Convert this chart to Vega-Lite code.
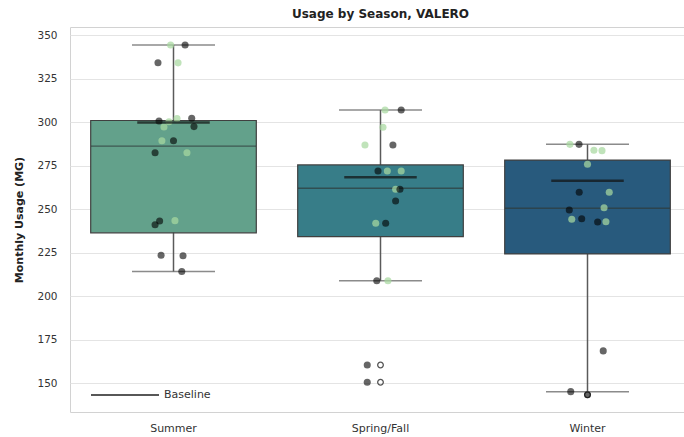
{
  "$schema": "https://vega.github.io/schema/vega-lite/v6.json",
  "autosize": "none",
  "width": 621,
  "height": 385,
  "padding": {"left": 70, "top": 27, "right": 0, "bottom": 25},
  "background": "white",
  "config": {
    "font": "DejaVu Sans",
    "view": {"stroke": "#d2d2d2", "strokeWidth": 1},
    "axis": {"labelColor": "#333", "titleColor": "#222", "domain": false, "ticks": false}
  },
  "title": {"text": "Usage by Season, VALERO", "fontSize": 12, "fontWeight": "bold", "color": "#222", "offset": 6},
  "datasets": {
    "boxes": [
      {"season": "Summer", "lower": 214.2, "q1": 236.4, "median": 286.2, "q3": 300.9, "upper": 344.3, "baseline": 299.8},
      {"season": "Spring/Fall", "lower": 208.9, "q1": 234.2, "median": 262.0, "q3": 275.4, "upper": 306.9, "baseline": 268.3},
      {"season": "Winter", "lower": 145.2, "q1": 224.3, "median": 250.5, "q3": 278.2, "upper": 287.2, "baseline": 266.3}
    ],
    "fliers": [
      {"season": "Spring/Fall", "usage": 160.5},
      {"season": "Spring/Fall", "usage": 150.6},
      {"season": "Winter", "usage": 143.4}
    ],
    "points": [
      {"season": "Summer", "usage": 344.3, "group": "light", "jitter": -0.014},
      {"season": "Summer", "usage": 344.3, "group": "dark", "jitter": 0.056},
      {"season": "Summer", "usage": 334.1, "group": "dark", "jitter": -0.075},
      {"season": "Summer", "usage": 334.0, "group": "light", "jitter": 0.022},
      {"season": "Summer", "usage": 300.6, "group": "dark", "jitter": -0.07},
      {"season": "Summer", "usage": 300.2, "group": "light", "jitter": -0.022},
      {"season": "Summer", "usage": 302.0, "group": "light", "jitter": 0.017},
      {"season": "Summer", "usage": 302.2, "group": "dark", "jitter": 0.088},
      {"season": "Summer", "usage": 297.4, "group": "dark", "jitter": 0.099},
      {"season": "Summer", "usage": 297.2, "group": "light", "jitter": -0.046},
      {"season": "Summer", "usage": 289.3, "group": "light", "jitter": -0.056},
      {"season": "Summer", "usage": 289.3, "group": "dark", "jitter": 0.0},
      {"season": "Summer", "usage": 282.4, "group": "dark", "jitter": -0.089},
      {"season": "Summer", "usage": 282.4, "group": "light", "jitter": 0.065},
      {"season": "Summer", "usage": 241.0, "group": "dark", "jitter": -0.089},
      {"season": "Summer", "usage": 243.2, "group": "dark", "jitter": -0.067},
      {"season": "Summer", "usage": 243.4, "group": "light", "jitter": 0.007},
      {"season": "Summer", "usage": 223.5, "group": "dark", "jitter": -0.06},
      {"season": "Summer", "usage": 223.2, "group": "dark", "jitter": 0.046},
      {"season": "Summer", "usage": 214.2, "group": "dark", "jitter": 0.04},
      {"season": "Spring/Fall", "usage": 306.9, "group": "light", "jitter": 0.022},
      {"season": "Spring/Fall", "usage": 306.9, "group": "dark", "jitter": 0.1},
      {"season": "Spring/Fall", "usage": 297.0, "group": "light", "jitter": 0.012},
      {"season": "Spring/Fall", "usage": 286.8, "group": "light", "jitter": -0.075},
      {"season": "Spring/Fall", "usage": 286.8, "group": "dark", "jitter": 0.06},
      {"season": "Spring/Fall", "usage": 271.9, "group": "dark", "jitter": -0.012},
      {"season": "Spring/Fall", "usage": 271.9, "group": "light", "jitter": 0.033},
      {"season": "Spring/Fall", "usage": 271.9, "group": "light", "jitter": 0.1},
      {"season": "Spring/Fall", "usage": 261.4, "group": "light", "jitter": 0.073},
      {"season": "Spring/Fall", "usage": 261.4, "group": "dark", "jitter": 0.094},
      {"season": "Spring/Fall", "usage": 254.7, "group": "dark", "jitter": 0.073},
      {"season": "Spring/Fall", "usage": 241.9, "group": "light", "jitter": -0.023},
      {"season": "Spring/Fall", "usage": 241.9, "group": "dark", "jitter": 0.025},
      {"season": "Spring/Fall", "usage": 208.9, "group": "dark", "jitter": -0.018},
      {"season": "Spring/Fall", "usage": 208.9, "group": "light", "jitter": 0.036},
      {"season": "Spring/Fall", "usage": 160.5, "group": "dark", "jitter": -0.064},
      {"season": "Spring/Fall", "usage": 150.6, "group": "dark", "jitter": -0.064},
      {"season": "Winter", "usage": 287.2, "group": "light", "jitter": -0.085},
      {"season": "Winter", "usage": 287.2, "group": "dark", "jitter": -0.041},
      {"season": "Winter", "usage": 283.8, "group": "light", "jitter": 0.031},
      {"season": "Winter", "usage": 283.6, "group": "light", "jitter": 0.07},
      {"season": "Winter", "usage": 275.8, "group": "light", "jitter": 0.0},
      {"season": "Winter", "usage": 259.7, "group": "dark", "jitter": -0.04},
      {"season": "Winter", "usage": 259.7, "group": "light", "jitter": 0.105},
      {"season": "Winter", "usage": 249.5, "group": "dark", "jitter": -0.088},
      {"season": "Winter", "usage": 250.8, "group": "light", "jitter": 0.08},
      {"season": "Winter", "usage": 244.2, "group": "light", "jitter": -0.076},
      {"season": "Winter", "usage": 244.5, "group": "dark", "jitter": -0.028},
      {"season": "Winter", "usage": 242.6, "group": "dark", "jitter": 0.049},
      {"season": "Winter", "usage": 242.8, "group": "light", "jitter": 0.089},
      {"season": "Winter", "usage": 168.6, "group": "dark", "jitter": 0.076},
      {"season": "Winter", "usage": 145.2, "group": "dark", "jitter": -0.081},
      {"season": "Winter", "usage": 143.4, "group": "dark", "jitter": 0.0}
    ]
  },
  "encoding": {
    "x": {
      "field": "season", "type": "nominal", "sort": ["Summer", "Spring/Fall", "Winter"],
      "scale": {"paddingInner": 0.2, "paddingOuter": 0.1},
      "axis": {"title": null, "labelAngle": 0, "labelFontSize": 11, "labelPadding": 10, "grid": false}
    }
  },
  "layer": [
    {
      "data": {"name": "boxes"},
      "mark": {"type": "rule", "color": "#5a5a5a", "strokeWidth": 1.5},
      "encoding": {
        "y": {"field": "lower", "type": "quantitative", "scale": {"domain": [133.5, 354.6], "nice": false, "zero": false},
          "axis": {"title": "Monthly Usage (MG)", "titleFontSize": 11, "titleFontWeight": "bold", "titlePadding": 12,
            "values": [150, 175, 200, 225, 250, 275, 300, 325, 350], "labelFontSize": 10.5, "labelPadding": 13,
            "grid": true, "gridColor": "#e4e4e4", "gridWidth": 1.2}},
        "y2": {"field": "upper"}
      }
    },
    {
      "data": {"name": "boxes"},
      "mark": {"type": "tick", "color": "#5a5a5a", "size": 83, "thickness": 1.5},
      "encoding": {"y": {"field": "lower", "type": "quantitative"}}
    },
    {
      "data": {"name": "boxes"},
      "mark": {"type": "tick", "color": "#5a5a5a", "size": 83, "thickness": 1.5},
      "encoding": {"y": {"field": "upper", "type": "quantitative"}}
    },
    {
      "data": {"name": "boxes"},
      "mark": {"type": "bar", "stroke": "#404040", "strokeWidth": 1.2, "opacity": 1, "width": 165.6},
      "encoding": {
        "y": {"field": "q1", "type": "quantitative"},
        "y2": {"field": "q3"},
        "fill": {"field": "season", "type": "nominal", "legend": null,
          "scale": {"domain": ["Summer", "Spring/Fall", "Winter"], "range": ["#63a18b", "#377d88", "#285a7d"]}}
      }
    },
    {
      "data": {"name": "boxes"},
      "mark": {"type": "tick", "color": "#2e3b3b", "thickness": 1.3, "size": 165},
      "encoding": {"y": {"field": "median", "type": "quantitative"}}
    },
    {
      "data": {"name": "fliers"},
      "mark": {"type": "point", "filled": false, "shape": "circle", "size": 32, "stroke": "#555", "strokeWidth": 1.3, "opacity": 1},
      "encoding": {"y": {"field": "usage", "type": "quantitative"}}
    },
    {
      "data": {"name": "points"},
      "mark": {"type": "circle", "size": 50, "opacity": 1},
      "encoding": {
        "y": {"field": "usage", "type": "quantitative"},
        "xOffset": {"field": "jitter", "type": "quantitative", "scale": {"domain": [-0.4, 0.4]}},
        "color": {"field": "group", "type": "nominal", "legend": null,
          "scale": {"domain": ["dark", "light"], "range": ["#000000", "#a8d8a0"]}},
        "fillOpacity": {"field": "group", "type": "nominal", "legend": null,
          "scale": {"domain": ["dark", "light"], "range": [0.6, 0.72]}}
      }
    },
    {
      "data": {"name": "boxes"},
      "mark": {"type": "tick", "filled": false, "thickness": 0.01, "size": 70, "strokeWidth": 2.5},
      "encoding": {
        "y": {"field": "baseline", "type": "quantitative"},
        "stroke": {"datum": "Baseline", "type": "nominal",
          "scale": {"domain": ["Baseline"], "range": ["#111111"]},
          "legend": {"title": null, "orient": "none", "legendX": 20, "legendY": 333,
            "symbolType": "stroke", "symbolSize": 4624, "symbolStrokeWidth": 2, "labelFontSize": 11, "labelColor": "#333", "labelOffset": 4}}
      }
    }
  ],
  "resolve": {"scale": {"color": "independent"}}
}
